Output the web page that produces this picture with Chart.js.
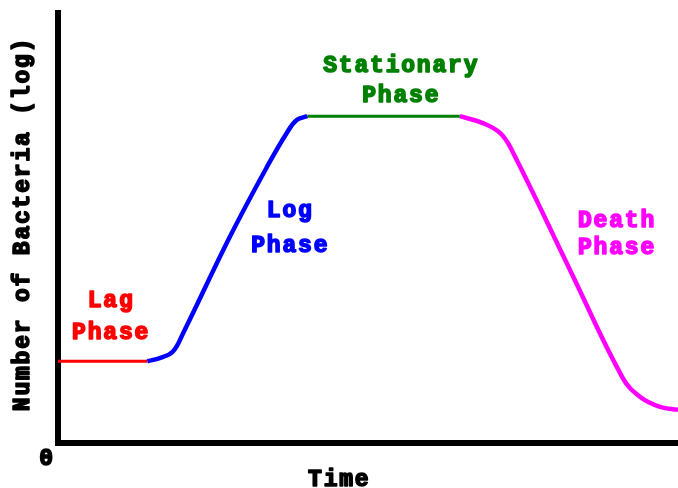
<!DOCTYPE html>
<html>
<head>
<meta charset="utf-8">
<script src="https://cdn.jsdelivr.net/npm/chart.js@4/dist/chart.umd.min.js"></script>
<style>
  html, body { margin: 0; padding: 0; background: #fff; }
  #wrap { width: 678px; height: 488px; }
</style>
</head>
<body>
<div id="wrap"><canvas id="growthCurve"></canvas></div>
<script>
// time (x) and log number of bacteria (y), one pair of arrays per phase
var lagTime = [0, 14.4];
var lagCount = [19, 19];
var logTime = [14.4, 16.5, 18.5, 20.2, 27.7, 33.7, 36.9, 38.5, 40.2];
var logCount = [19, 19.8, 21.2, 25.6, 47.9, 64.2, 72.1, 75.1, 76];
var statTime = [40.2, 64.8];
var statCount = [76, 76];
var deathTime = [64.8, 68.5, 71.3, 73.2, 82.6, 91.1, 93.9, 97.1, 100];
var deathCount = [76, 74.4, 72.1, 68.1, 40.2, 15.1, 10.7, 8.4, 7.7];

var phaseNames = [['Lag', 'Phase'], ['Log', 'Phase'], ['Stationary', 'Phase'], ['Death', 'Phase']];
var phaseColors = ['#ff0000', '#0000ff', '#008000', '#ff00ff'];
var yTitle = 'Number of Bacteria (log)';
var xTitle = 'Time';
var originLabel = '0';

// where each phase name sits, in chart units (one y per text line)
var labelSpots = [
    { x: 8.4, y: [33.0, 25.5] },
    { x: 37.3, y: [53.9, 45.7] },
    { x: 55.2, y: [87.6, 80.6] },
    { x: 90.0, y: [51.6, 45.3] }
];

function toPoints(xs, ys) {
    return xs.map(function (v, i) { return { x: v, y: ys[i] }; });
}

function phaseSet(xs, ys, color, width) {
    return {
        data: toPoints(xs, ys),
        borderColor: color,
        borderWidth: width,
        pointRadius: 0,
        fill: false,
        tension: 0.4
    };
}

// heavy slab lettering: bold mono face, filled and then stroked over
function drawHeavy(ctx, text, x, y, color) {
    ctx.fillStyle = color;
    ctx.strokeStyle = color;
    ctx.fillText(text, x, y);
    ctx.strokeText(text, x, y);
}

var phaseText = {
    id: 'phaseText',
    afterDatasetsDraw: function (chart) {
        var ctx = chart.ctx;
        var xs = chart.scales.x, ys = chart.scales.y;
        var area = chart.chartArea;
        ctx.save();
        ctx.font = 'bold 23px "Liberation Mono"';
        ctx.letterSpacing = '1.8px';
        ctx.lineWidth = 1.6;
        ctx.lineJoin = 'round';
        ctx.textAlign = 'center';
        ctx.textBaseline = 'middle';
        phaseNames.forEach(function (lines, i) {
            var spot = labelSpots[i];
            lines.forEach(function (t, j) {
                drawHeavy(ctx, t, xs.getPixelForValue(spot.x) + 1, ys.getPixelForValue(spot.y[j]), phaseColors[i]);
            });
        });
        drawHeavy(ctx, originLabel, area.left - 11, area.bottom + 16, '#000');
        drawHeavy(ctx, xTitle, xs.getPixelForValue(45.2) + 1, area.bottom + 37, '#000');
        ctx.translate(23, (area.top + area.bottom) / 2 - 4);
        ctx.rotate(-Math.PI / 2);
        drawHeavy(ctx, yTitle, 0, 0, '#000');
        ctx.restore();
    }
};

var config = {
    type: 'line',
    data: {
        datasets: [
            phaseSet(lagTime, lagCount, phaseColors[0], 3),
            phaseSet(logTime, logCount, phaseColors[1], 4.5),
            phaseSet(statTime, statCount, phaseColors[2], 3),
            phaseSet(deathTime, deathCount, phaseColors[3], 4.5)
        ]
    },
    options: {
        responsive: true,
        maintainAspectRatio: false,
        animation: false,
        layout: { padding: { top: 13, right: 0, bottom: 0, left: 0 } },
        plugins: {
            legend: { display: false },
            tooltip: { enabled: false }
        },
        scales: {
            x: {
                type: 'linear',
                min: 0,
                max: 100,
                grid: { display: false },
                border: { display: true, color: '#000', width: 6 },
                ticks: { display: false },
                afterFit: function (scale) { scale.height = 45; }
            },
            y: {
                type: 'linear',
                min: 0,
                max: 100,
                grid: { display: false },
                border: { display: true, color: '#000', width: 6 },
                ticks: { display: false },
                afterFit: function (scale) { scale.width = 58; }
            }
        }
    },
    plugins: [phaseText]
};

var growthChart = new Chart(document.querySelector('#growthCurve').getContext('2d'), config);
</script>
</body>
</html>
